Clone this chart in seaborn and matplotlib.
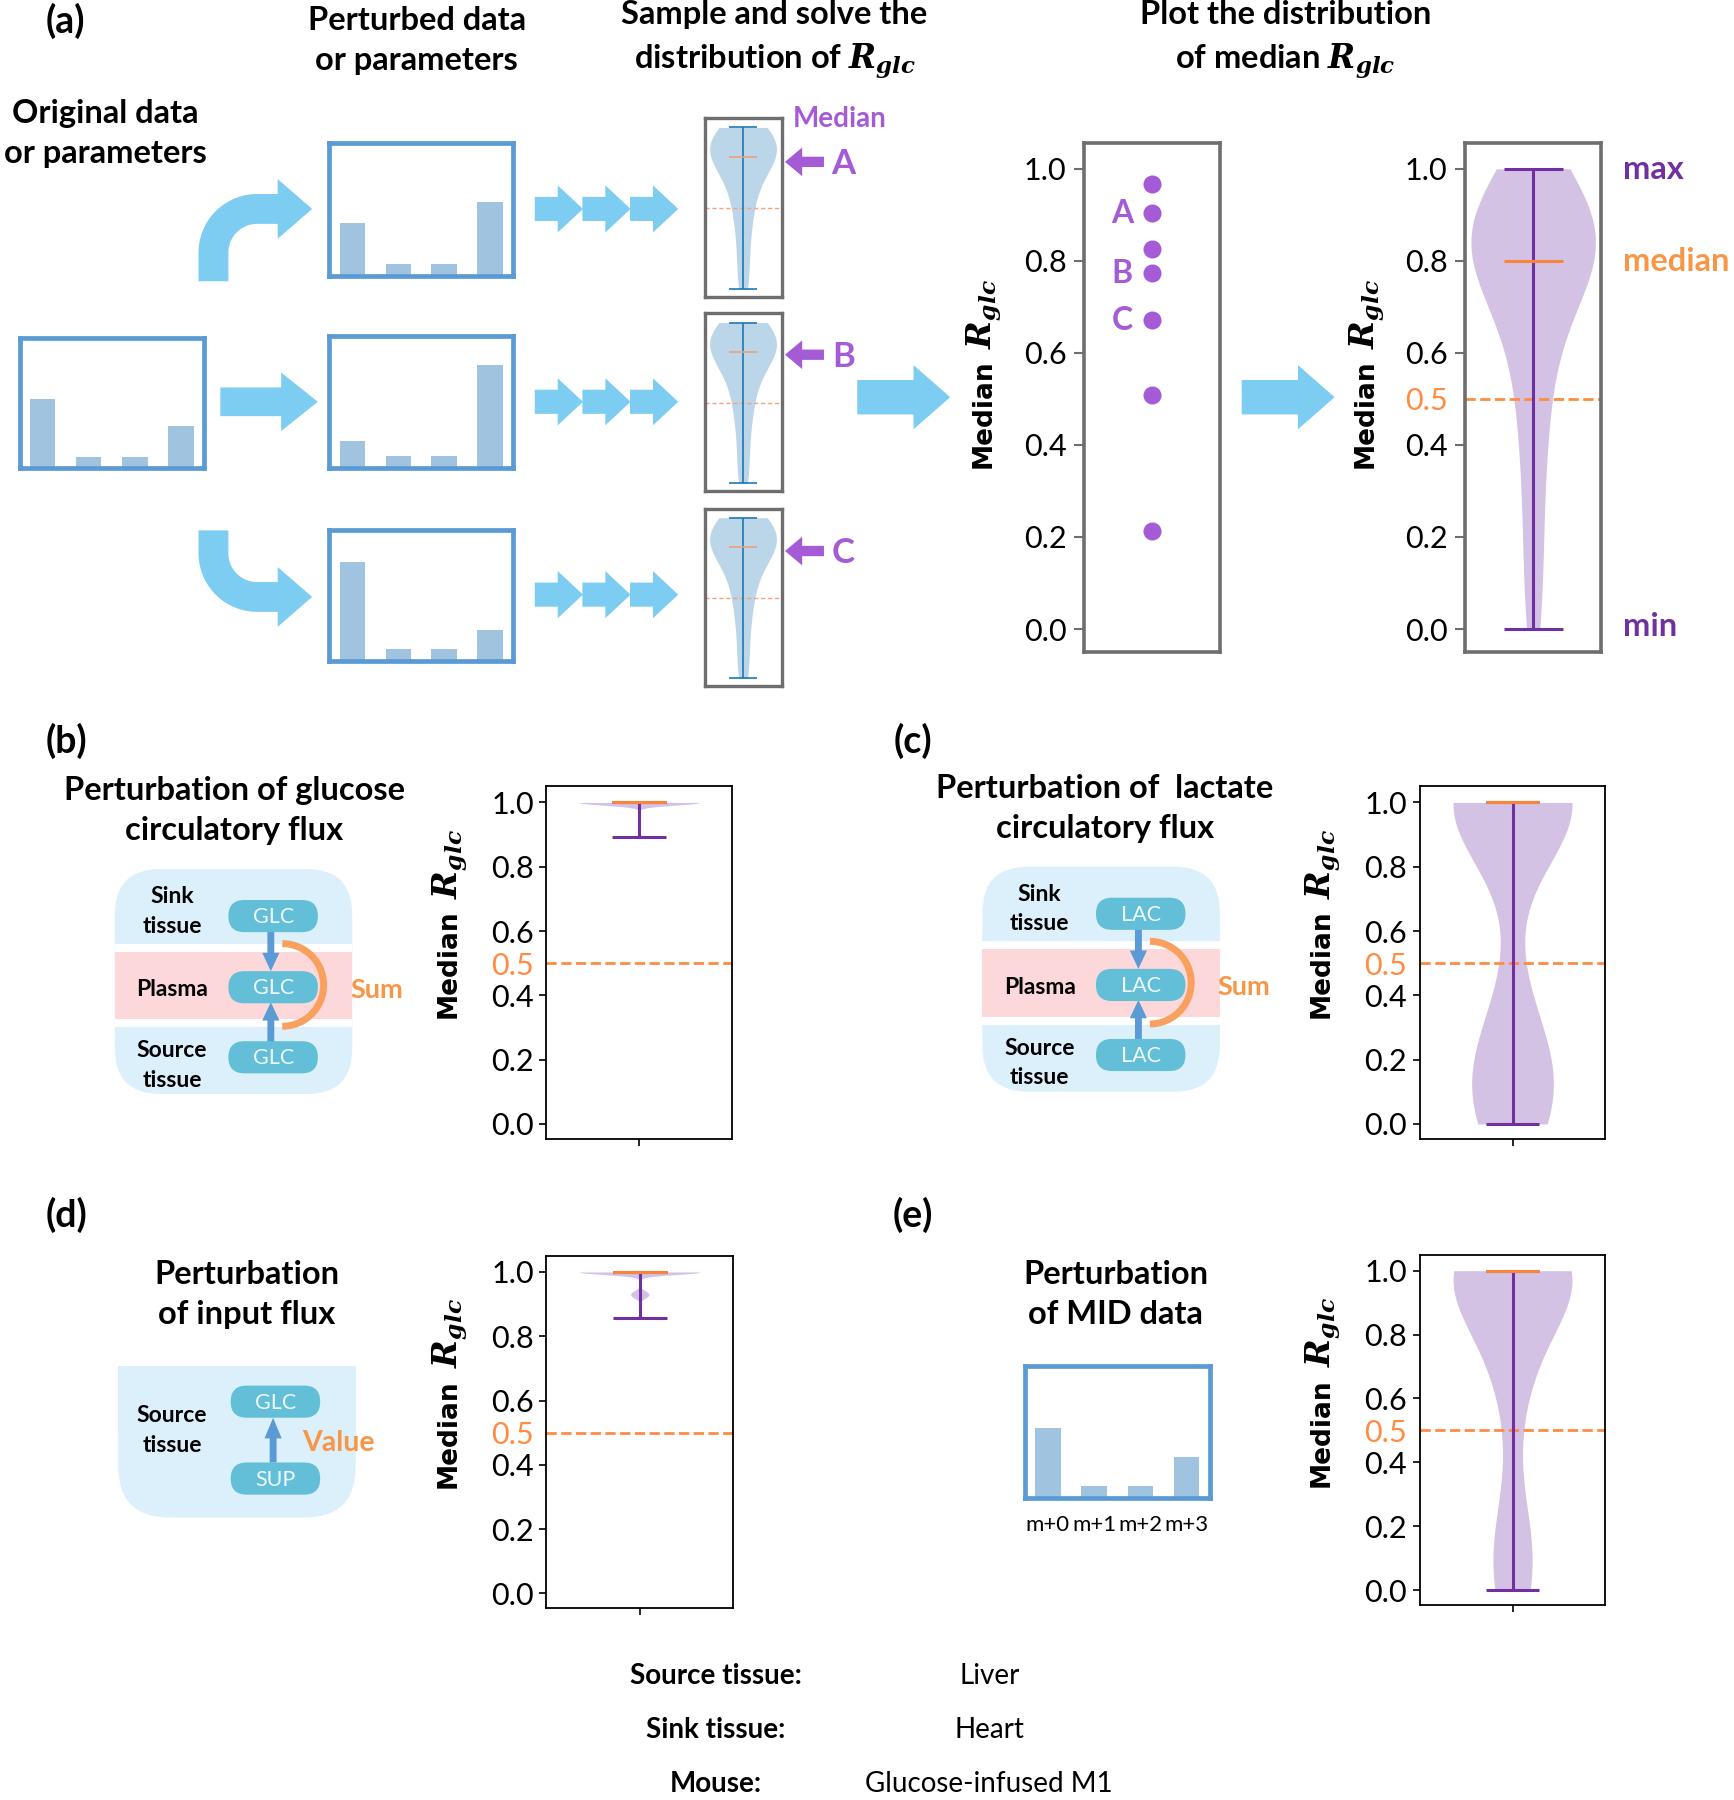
import numpy as np
import matplotlib
matplotlib.use("Agg")
import matplotlib.pyplot as plt
import matplotlib.patches as mpatches
import seaborn as sns

# ---- data ----
# bar heights of the MID sketches, as a fraction of the box height
mid_labels = ["m+0", "m+1", "m+2", "m+3"]
mid_original = [0.53, 0.09, 0.09, 0.32]
mid_perturbed_1 = [0.40, 0.09, 0.09, 0.56]
mid_perturbed_2 = [0.21, 0.09, 0.09, 0.78]
mid_perturbed_3 = [0.76, 0.09, 0.09, 0.24]
mid_panel_e = [0.53, 0.09, 0.09, 0.31]

# R_glc samples behind the three small violins of (a)
rglc_sample = [1.0, 0.99, 0.98, 0.97, 0.96, 0.95, 0.94, 0.93, 0.92, 0.91,
               0.90, 0.89, 0.88, 0.87, 0.86, 0.85, 0.84, 0.83, 0.82, 0.81,
               0.80, 0.78, 0.76, 0.74, 0.71, 0.68, 0.64, 0.60, 0.56, 0.52,
               0.48, 0.43, 0.37, 0.30, 0.22, 0.13, 0.05, 0.0]

# medians of the perturbed runs (scatter in a)
run_medians = [0.968, 0.903, 0.825, 0.773, 0.671, 0.509, 0.212]
run_names = ["A", "B", "C"]
run_name_values = [0.903, 0.773, 0.671]

# distribution of median R_glc, (a) right
median_dist_a = [1.0, 0.98, 0.96, 0.95, 0.94, 0.93, 0.92, 0.91, 0.90, 0.89,
                 0.88, 0.87, 0.86, 0.85, 0.845, 0.84, 0.83, 0.825, 0.82, 0.81,
                 0.80,
                 0.79, 0.78, 0.77, 0.76, 0.74, 0.72, 0.70, 0.67, 0.64, 0.60,
                 0.56, 0.52, 0.48, 0.43, 0.37, 0.30, 0.23, 0.15, 0.07, 0.0]

# (b) glucose circulatory flux
median_glucose_flux = [1.0, 1.0, 1.0, 1.0, 1.0, 1.0, 1.0, 1.0, 1.0, 1.0,
                       1.0, 1.0, 1.0, 1.0, 1.0, 1.0, 1.0, 1.0, 1.0, 1.0,
                       0.999, 0.998, 0.997, 0.995, 0.993, 0.99, 0.893]
# (c) lactate circulatory flux
median_lactate_flux = [1.0, 1.0, 1.0, 1.0, 1.0, 1.0, 1.0, 1.0, 1.0, 1.0,
                       1.0, 1.0, 1.0, 1.0, 1.0, 1.0, 1.0, 1.0, 1.0, 1.0,
                       0.90, 0.45,
                       0.34, 0.28, 0.24, 0.21, 0.18, 0.16, 0.14, 0.12, 0.10, 0.08,
                       0.07, 0.05, 0.03, 0.02, 0.0, 0.0]
# (d) input flux
median_input_flux = [1.0, 1.0, 1.0, 1.0, 1.0, 1.0, 1.0, 1.0, 1.0, 1.0,
                     1.0, 1.0, 1.0, 1.0, 1.0, 1.0, 1.0, 1.0, 1.0, 1.0,
                     0.998, 0.995, 0.99, 0.94, 0.935, 0.93, 0.925, 0.92, 0.857]
# (e) MID data
median_mid_data = [1.0, 1.0, 1.0, 1.0, 1.0, 1.0, 1.0, 1.0, 1.0, 1.0,
                   1.0, 1.0, 1.0, 1.0, 1.0, 1.0, 1.0, 1.0, 0.90, 0.85,
                   0.80, 0.75, 0.70, 0.65, 0.58, 0.30, 0.20, 0.14, 0.10, 0.06,
                   0.03, 0.0, 0.0]

rglc_ticks = [0.0, 0.2, 0.4, 0.5, 0.6, 0.8, 1.0]
rglc_tick_labels = ["0.0", "0.2", "0.4", "0.5", "0.6", "0.8", "1.0"]
plain_ticks = [0.0, 0.2, 0.4, 0.6, 0.8, 1.0]
plain_tick_labels = ["0.0", "0.2", "0.4", "0.6", "0.8", "1.0"]

info_keys = ["Source tissue:", "Sink tissue:", "Mouse:"]
info_values = ["Liver", "Heart", "Glucose-infused M1"]

# ---- colours ----
SKY = "#7dcdf3"
BOX = "#5b9bd5"
BAR = "#a0c4e0"
PURPLE = "#a55bd6"
DEEP_PURPLE = "#7030a0"
VIOLIN = "#d4c2e5"
ORANGE = "#f79646"
MED_ORANGE = "#f8853a"
DASH_ORANGE = "#ff8c42"
FRAME_GRAY = "#6e6e6e"
SMALL_BODY = "#bcd6e9"
SMALL_LINE = "#1f77b4"
SKY_BG = "#dcf0fc"
PINK = "#fdd8da"
PILL = "#62bfd7"
ARROW_BLUE = "#5b9bd5"
ARC = "#f9a05e"

plt.rcParams["font.family"] = ["Lato", "DejaVu Sans"]
plt.rcParams["mathtext.fontset"] = "dejavuserif"

REF_W, REF_H = 1511, 1568
fig = plt.figure(figsize=(17.34, 18.0), dpi=100)


def add_box(x0, y0, x1, y1):
    return fig.add_axes([x0 / REF_W, 1 - y1 / REF_H, (x1 - x0) / REF_W, (y1 - y0) / REF_H])


# overlay in reference pixel coordinates for the sketch parts
lay = fig.add_axes([0, 0, 1, 1], zorder=10)
lay.set_xlim(0, REF_W)
lay.set_ylim(REF_H, 0)
lay.axis("off")


def block_arrow(x0, x1, y, shaft, head, head_len, color):
    d = 1 if x1 > x0 else -1
    xb = x1 - d * head_len
    pts = [(x0, y - shaft / 2), (xb, y - shaft / 2), (xb, y - head / 2), (x1, y),
           (xb, y + head / 2), (xb, y + shaft / 2), (x0, y + shaft / 2)]
    lay.add_patch(mpatches.Polygon(pts, closed=True, fc=color, ec="none"))


def bend_arrow(y0, stub, s):
    # s=-1 bends upward, s=+1 bends downward; one outline so no seams
    cx, cy = 224, y0 + s * stub
    r_out, r_in = 51, 25
    phi = np.linspace(0, np.pi / 2, 30)
    outer = [(cx - r_out * np.cos(p), cy + s * r_out * np.sin(p)) for p in phi]
    inner = [(cx - r_in * np.cos(p), cy + s * r_in * np.sin(p)) for p in phi[::-1]]
    yh = cy + s * (r_out + r_in) / 2
    head = [(242, cy + s * r_out), (242, yh + s * 26), (272, yh), (242, yh - s * 26),
            (242, cy + s * r_in)]
    pts = [(cx - r_out, y0)] + outer + head + inner + [(cx - r_in, y0)]
    lay.add_patch(mpatches.Polygon(pts, closed=True, fc=SKY, ec="none"))


def pill(xc, yc, name):
    lay.add_patch(mpatches.FancyBboxPatch((xc - 39, yc - 14), 78, 28,
                                          boxstyle="round,pad=0,rounding_size=14",
                                          fc=PILL, ec="none", zorder=3))
    lay.text(xc, yc + 1, name, ha="center", va="center", fontsize=15.5, color="#eef8fb", zorder=4)


def circulation(dx, dy, name):
    x0, w = 100 + dx, 207
    lay.add_patch(mpatches.FancyBboxPatch((x0, 757 + dy), w, 196,
                                          boxstyle="round,pad=0,rounding_size=40", fc=SKY_BG, ec="none"))
    lay.add_patch(mpatches.Rectangle((x0, 822 + dy), w, 73, fc="white", ec="none"))
    lay.add_patch(mpatches.Rectangle((x0, 829 + dy), w, 59, fc=PINK, ec="none"))
    for yc in (798, 860, 921):
        pill(238 + dx, yc + dy, name)
    lay.add_patch(mpatches.FancyArrow(236 + dx, 811 + dy, 0, 35, width=6, head_width=15, head_length=16,
                                      length_includes_head=True, fc=ARROW_BLUE, ec="none", zorder=2))
    lay.add_patch(mpatches.FancyArrow(236 + dx, 908 + dy, 0, -35, width=6, head_width=15, head_length=16,
                                      length_includes_head=True, fc=ARROW_BLUE, ec="none", zorder=2))
    lay.add_patch(mpatches.Arc((246 + dx, 858 + dy), 72, 72, theta1=-90, theta2=90, color=ARC, lw=5))
    lay.text(328 + dx, 862 + dy, "Sum", ha="center", va="center", fontsize=19.5, color=ORANGE, fontweight="bold")
    lay.text(150 + dx, 794 + dy, "Sink\ntissue", ha="center", va="center", fontsize=16.5,
             fontweight="bold", linespacing=1.5)
    lay.text(150 + dx, 862 + dy, "Plasma", ha="center", va="center", fontsize=16.5, fontweight="bold")
    lay.text(150 + dx, 928 + dy, "Source\ntissue", ha="center", va="center", fontsize=16.5,
             fontweight="bold", linespacing=1.5)


def mid_box(rect, heights, labels=False):
    ax = add_box(*rect)
    sns.barplot(x=mid_labels, y=heights, ax=ax, color=BAR, width=0.55, saturation=1, errorbar=None)
    ax.set_xlim(-0.5, 3.5)
    ax.set_ylim(0, 1)
    ax.set_yticks([])
    ax.set_xlabel("")
    ax.set_ylabel("")
    for s in ax.spines.values():
        s.set_color(BOX)
        s.set_linewidth(3.4)
    if labels:
        ax.tick_params(axis="x", length=0, pad=12, labelsize=16)
    else:
        ax.set_xticks([])
    return ax


def extrema(ax, values, line_color, med_color, half, lw):
    lo, hi, mid = min(values), max(values), float(np.median(values))
    ax.vlines(0, lo, hi, color=line_color, lw=lw, zorder=3)
    ax.hlines([lo, hi], -half, half, color=line_color, lw=lw, zorder=3)
    ax.hlines(mid, -half, half, color=med_color, lw=lw, zorder=4)


def rglc_label(xc, y_bottom):
    # "Median" starts at y_bottom, the R_glc symbol continues above it
    lay.text(xc, y_bottom, "Median", rotation=90, rotation_mode="anchor", ha="left", va="center",
             fontfamily="DejaVu Sans", fontweight="bold", fontsize=19)
    lay.text(xc + 1, y_bottom - 104, r"$\mathbfit{R_{glc}}$", rotation=90, rotation_mode="anchor",
             ha="left", va="center", fontsize=24)


def orange_half(ax):
    ax.set_yticks(rglc_ticks)
    ax.set_yticklabels(rglc_tick_labels)
    t = ax.yaxis.get_major_ticks()[3]
    t.tick1line.set_visible(False)
    t.label1.set_color(DASH_ORANGE)


TITLE = dict(ha="center", va="center", fontsize=23.5, fontweight="bold", linespacing=1.45)
TAG = dict(ha="left", va="center", fontsize=27, fontweight="bold")

# ---------------- panel (a) ----------------
lay.text(40, 18, "(a)", **TAG)
lay.text(92, 116, "Original data\nor parameters", **TITLE)
lay.text(363, 35, "Perturbed data\nor parameters", **TITLE)
lay.text(675, 35, "Sample and solve the\ndistribution of $\\mathbfit{R_{glc}}$", **TITLE)
lay.text(1120, 35, "Plot the distribution\nof median $\\mathbfit{R_{glc}}$", **TITLE)

mid_box((17, 294, 178, 408), mid_original)
mid_box((287, 125, 447, 240), mid_perturbed_1)
mid_box((287, 293, 447, 408), mid_perturbed_2)
mid_box((287, 462, 447, 576), mid_perturbed_3)

bend_arrow(245, 25, -1)
bend_arrow(462, 20, 1)
block_arrow(192, 277, 350, 25, 51, 32, SKY)

for yc in (182, 350, 518):
    for i in range(3):
        xs = 466 + 41.5 * i
        block_arrow(xs, xs + 42, yc, 21, 41, 22, SKY)

block_arrow(747, 828, 346, 30, 56, 32, SKY)
block_arrow(1082, 1163, 346, 30, 56, 32, SKY)

for y0, y1 in [(103, 259), (273, 428), (443, 598)]:
    ax = add_box(614, y0, 681, y1)
    sns.violinplot(y=rglc_sample, ax=ax, cut=0, inner=None, color=SMALL_BODY,
                   saturation=1, linewidth=0, width=0.8)
    ax.set_xlim(-0.46, 0.46)
    ax.set_ylim(-0.05, 1.057)
    extrema(ax, rglc_sample, SMALL_LINE, "#e9a27f", 0.17, 1.2)
    ax.axhline(0.5, color="#f3a27a", ls=(0, (3, 2)), lw=1)
    ax.set_xticks([])
    ax.set_yticks([])
    ax.set_xlabel("")
    ax.set_ylabel("")
    for s in ax.spines.values():
        s.set_color(FRAME_GRAY)
        s.set_linewidth(2.4)

lay.text(732, 104, "Median", ha="center", va="center", fontsize=20, fontweight="bold", color=PURPLE)
for name, yc in zip(run_names, (141, 309, 480)):
    block_arrow(718, 684, yc, 9, 25, 15, PURPLE)
    lay.text(735, yc + 2, name, ha="center", va="center", fontsize=25, fontweight="bold", color=PURPLE)

# scatter of medians
ax = add_box(945, 125, 1063, 568)
sns.stripplot(y=run_medians, ax=ax, jitter=False, color=PURPLE, size=13, linewidth=0)
ax.set_xlim(-1, 1)
ax.set_ylim(-0.05, 1.055)
ax.set_yticks(plain_ticks)
ax.set_yticklabels(plain_tick_labels)
ax.set_xticks([])
ax.set_xlabel("")
ax.set_ylabel("")
for name, val in zip(run_names, run_name_values):
    ax.text(-0.44, val, name, ha="center", va="center", fontsize=23, fontweight="bold", color=PURPLE)
ax.tick_params(axis="y", length=7, width=1.5, color=FRAME_GRAY, labelsize=22, pad=6)
for s in ax.spines.values():
    s.set_color(FRAME_GRAY)
    s.set_linewidth(2.6)
rglc_label(857, 408)

# distribution of medians
ax = add_box(1277, 125, 1395, 568)
sns.violinplot(y=median_dist_a, ax=ax, cut=0, inner=None, color=VIOLIN,
               saturation=1, linewidth=0, width=0.8)
ax.set_xlim(-0.435, 0.435)
ax.set_ylim(-0.05, 1.055)
extrema(ax, median_dist_a, DEEP_PURPLE, MED_ORANGE, 0.19, 2.2)
ax.axhline(0.5, color=DASH_ORANGE, ls="--", lw=2)
orange_half(ax)
ax.set_xticks([])
ax.set_xlabel("")
ax.set_ylabel("")
ax.tick_params(axis="y", length=7, width=1.5, color=FRAME_GRAY, labelsize=22, pad=6)
for s in ax.spines.values():
    s.set_color(FRAME_GRAY)
    s.set_linewidth(2.6)
rglc_label(1190, 408)

lay.text(1414, 148, "max", ha="left", va="center", fontsize=23.5, fontweight="bold", color=DEEP_PURPLE)
lay.text(1414, 228, "median", ha="left", va="center", fontsize=23.5, fontweight="bold", color=ORANGE)
lay.text(1414, 546, "min", ha="left", va="center", fontsize=23.5, fontweight="bold", color=DEEP_PURPLE)

# ---------------- panels (b)-(e) ----------------
lay.text(40, 645, "(b)", **TAG)
lay.text(779, 645, "(c)", **TAG)
lay.text(40, 1058, "(d)", **TAG)
lay.text(778, 1058, "(e)", **TAG)

lay.text(204, 706, "Perturbation of glucose\ncirculatory flux", **TITLE)
lay.text(963, 704, "Perturbation of  lactate\ncirculatory flux", **TITLE)
lay.text(215, 1128, "Perturbation\nof input flux", **TITLE)
lay.text(972, 1128, "Perturbation\nof MID data", **TITLE)

circulation(0, 0, "GLC")
circulation(756, -2, "LAC")

# input flux sketch
lay.add_patch(mpatches.FancyBboxPatch((103, 1190), 207, 132, boxstyle="round,pad=0,rounding_size=45",
                                      fc=SKY_BG, ec="none"))
lay.add_patch(mpatches.Rectangle((103, 1190), 207, 60, fc=SKY_BG, ec="none"))
pill(240, 1221, "GLC")
pill(240, 1288, "SUP")
lay.add_patch(mpatches.FancyArrow(238, 1274, 0, -39, width=6, head_width=15, head_length=18,
                                  length_includes_head=True, fc=ARROW_BLUE, ec="none", zorder=2))
lay.text(150, 1246, "Source\ntissue", ha="center", va="center", fontsize=16.5, fontweight="bold",
         linespacing=1.5)
lay.text(295, 1257, "Value", ha="center", va="center", fontsize=20.5, fontweight="bold", color=ORANGE)

mid_box((893, 1190, 1054, 1305), mid_panel_e, labels=True)

panel_specs = [
    ((476, 685, 638, 992), median_glucose_flux, 0.7, (391, 887)),
    ((1237, 685, 1399, 992), median_lactate_flux, 0.9, (1152, 887)),
    ((476, 1094, 639, 1401), median_input_flux, 0.4, (391, 1296)),
    ((1237, 1093, 1399, 1398), median_mid_data, 0.9, (1152, 1295)),
]
for rect, vals, bw, lab in panel_specs:
    ax = add_box(*rect)
    sns.violinplot(y=vals, ax=ax, cut=0, inner=None, color=VIOLIN, saturation=1,
                   linewidth=0, width=0.8, bw_adjust=bw)
    ax.set_xlim(-0.625, 0.625)
    ax.set_ylim(-0.046, 1.05)
    extrema(ax, vals, DEEP_PURPLE, MED_ORANGE, 0.18, 2.2)
    ax.axhline(0.5, color=DASH_ORANGE, ls="--", lw=2)
    orange_half(ax)
    ax.set_xticks([0])
    ax.set_xticklabels([])
    ax.set_xlabel("")
    ax.set_ylabel("")
    ax.tick_params(axis="both", length=5, width=1.2, labelsize=22, pad=4)
    for s in ax.spines.values():
        s.set_color("black")
        s.set_linewidth(1.3)
    rglc_label(*lab)

# ---------------- info lines ----------------
for key, val, yc in zip(info_keys, info_values, (1460, 1507, 1554)):
    lay.text(624, yc, key, ha="center", va="center", fontsize=20, fontweight="bold")
    lay.text(862, yc, val, ha="center", va="center", fontsize=20)

fig.savefig("out.png", dpi=100)
